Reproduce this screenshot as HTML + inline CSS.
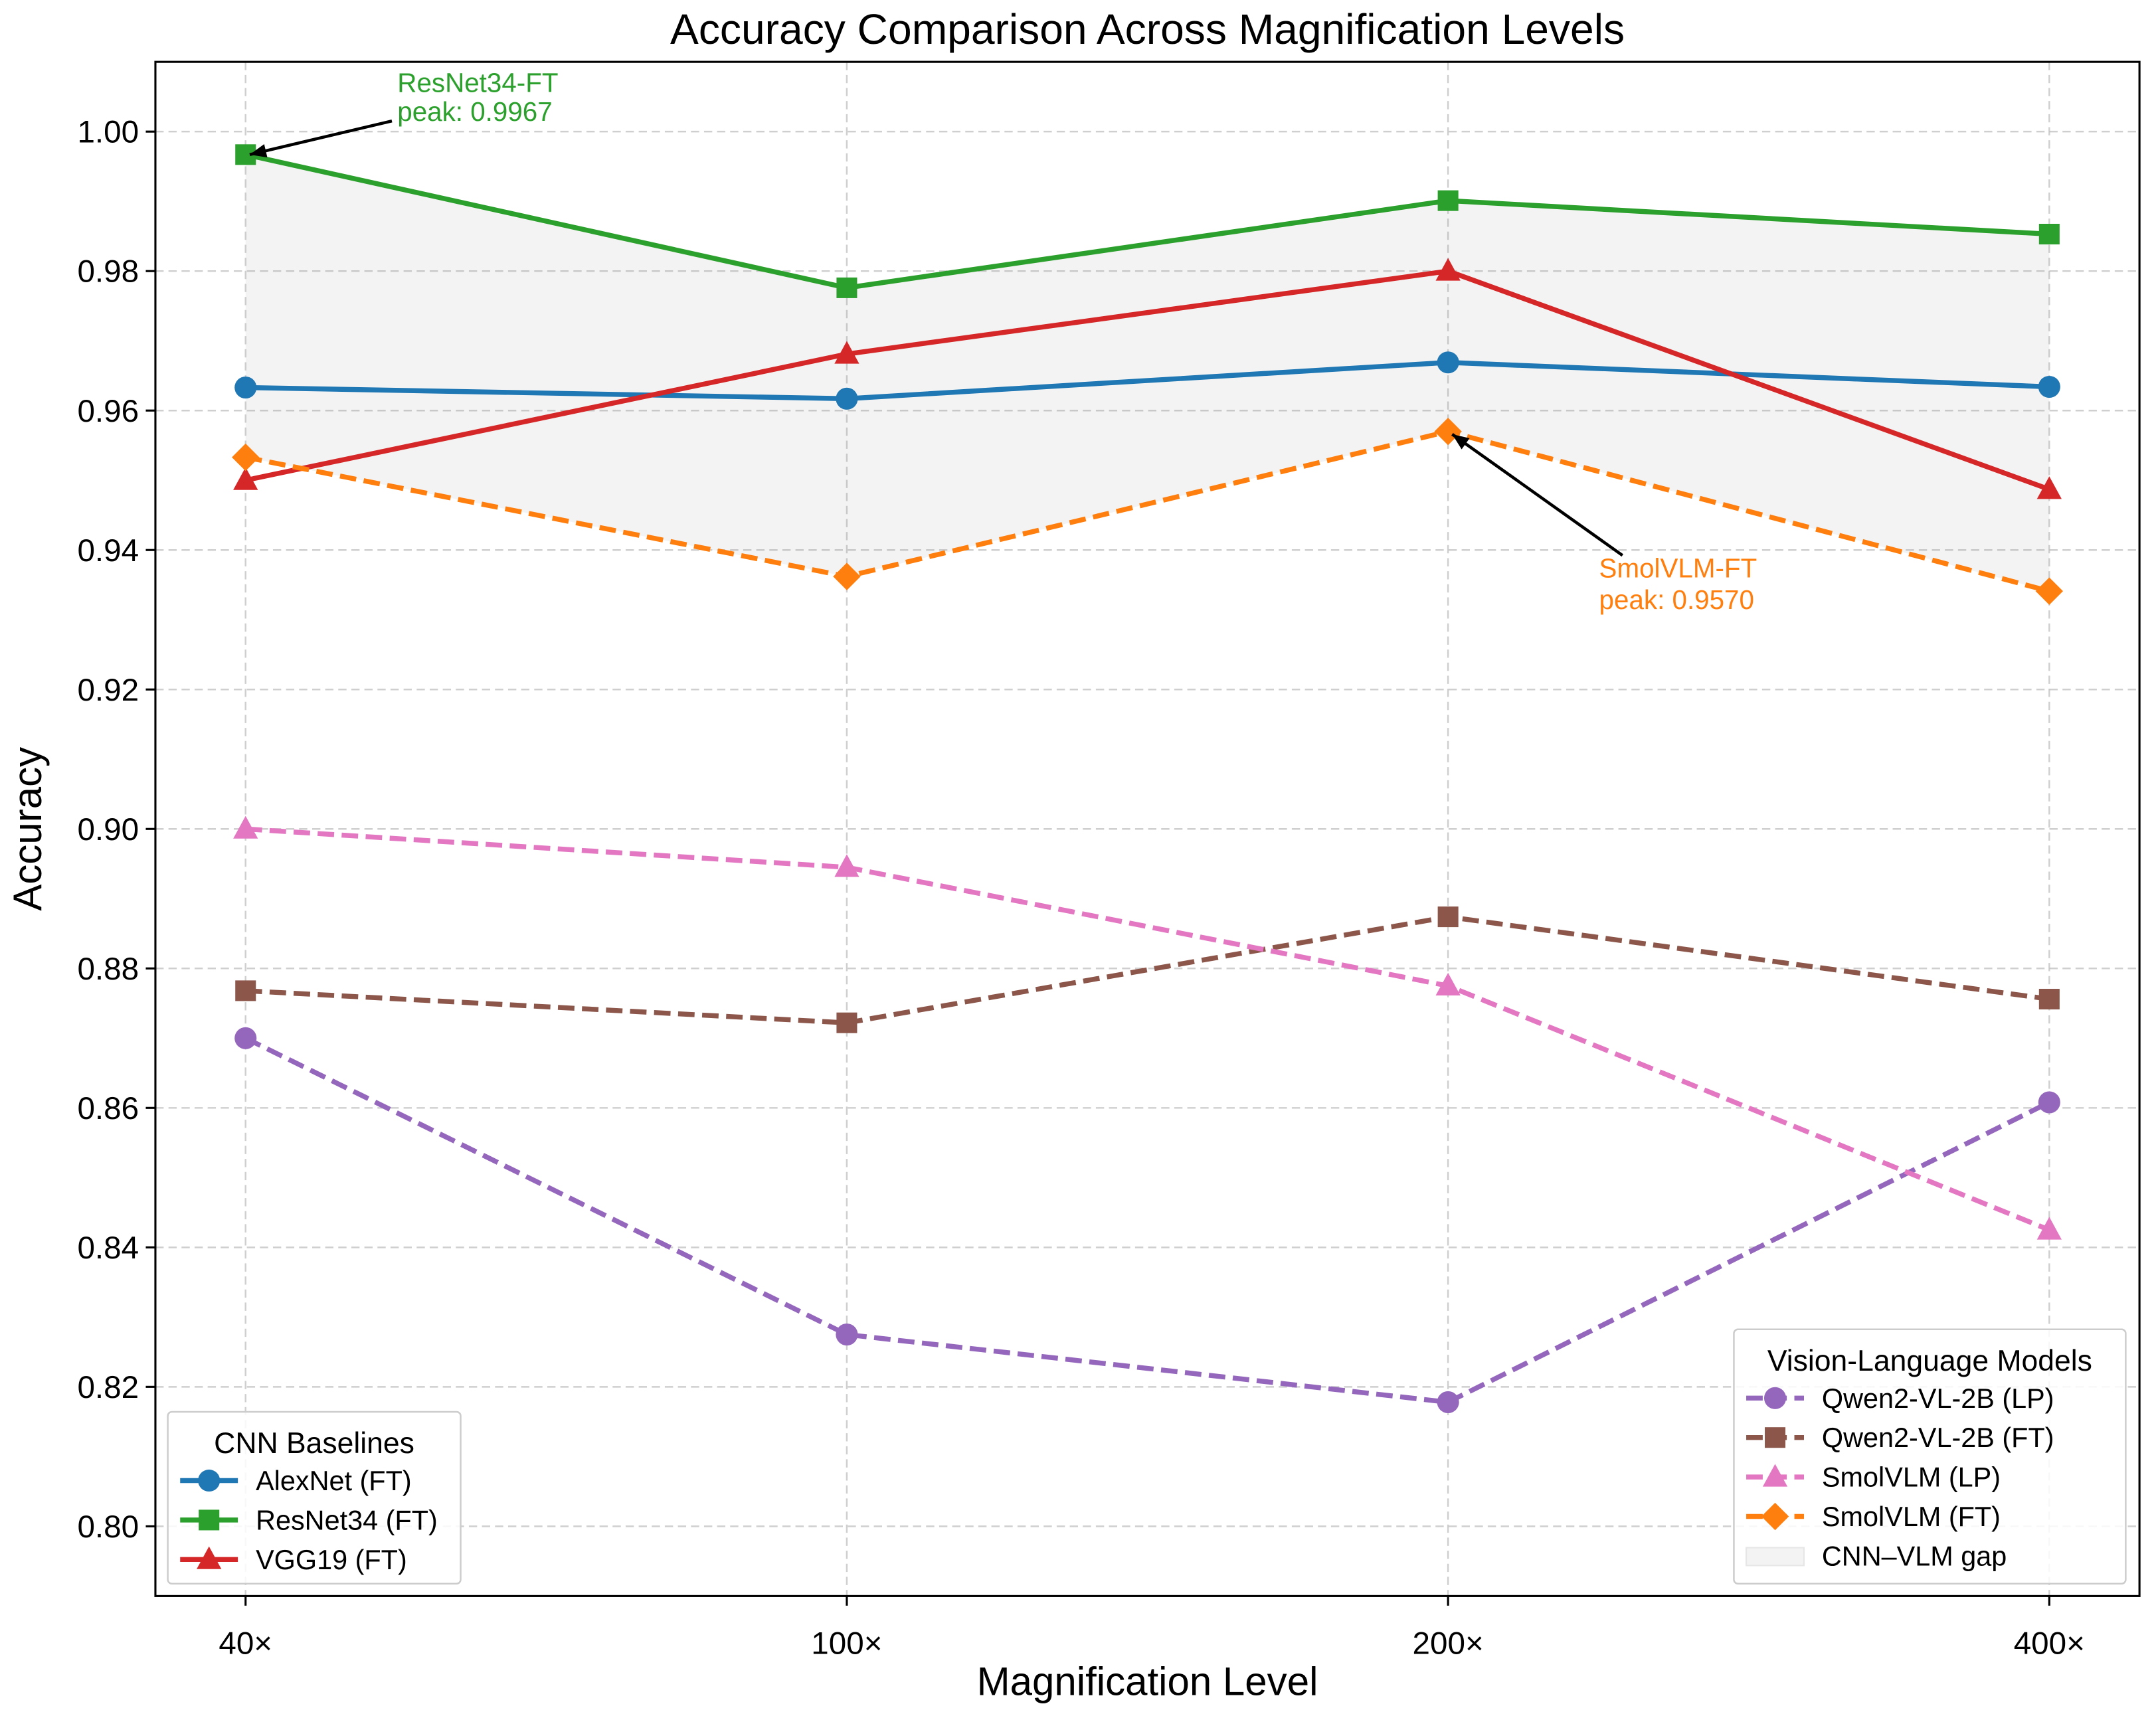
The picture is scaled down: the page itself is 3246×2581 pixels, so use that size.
<!DOCTYPE html>
<html><head><meta charset="utf-8"><style>
html,body{margin:0;padding:0;background:#fff;}
svg{display:block;font-family:"Liberation Sans",sans-serif;}
</style></head><body>
<svg id="chart" width="3246" height="2581" viewBox="0 0 1568 1246.8" xmlns="http://www.w3.org/2000/svg">
<rect width="1568" height="1246.8" fill="#fff"/>
<g id="grid"></g><g id="fill"></g><g id="series"></g><g id="axes"></g><g id="extra"></g>
</svg>
<script>
const categories = ["40×","100×","200×","400×"];
const yTicks = [0.80,0.82,0.84,0.86,0.88,0.90,0.92,0.94,0.96,0.98,1.00];
const alexnet = [0.9633,0.9617,0.9669,0.9634];
const resnet = [0.9967,0.9776,0.9901,0.9853];
const vgg = [0.9500,0.9681,0.9800,0.9487];
const qwenLP = [0.8700,0.8275,0.8178,0.8608];
const qwenFT = [0.8768,0.8722,0.8874,0.8756];
const smolLP = [0.9000,0.8945,0.8775,0.8425];
const smolFT = [0.9533,0.9362,0.9570,0.9341];

const L=113,R=1556,T=45,B=1161, xmin=-0.15,xmax=3.15, ymin=0.79,ymax=1.01;
const X=i=>L+(i-xmin)/(xmax-xmin)*(R-L);
const Y=v=>B-(v-ymin)/(ymax-ymin)*(B-T);
const NS="http://www.w3.org/2000/svg";
function mk(tag,attrs,parent,text){const e=document.createElementNS(NS,tag);for(const k in attrs)e.setAttribute(k,attrs[k]);if(text!==undefined)e.textContent=text;parent.appendChild(e);return e;}
const grid=document.getElementById('grid'),fillG=document.getElementById('fill'),ser=document.getElementById('series'),ax=document.getElementById('axes'),ex=document.getElementById('extra');

categories.forEach((c,i)=>{const g=mk('line',{x1:X(i),x2:X(i),y1:T,y2:B,stroke:'#b0b0b0','stroke-width':1.2,'stroke-dasharray':'6,3.5',opacity:0.6},grid);

});
yTicks.forEach(v=>{const g=mk('line',{x1:L,x2:R,y1:Y(v),y2:Y(v),stroke:'#b0b0b0','stroke-width':1.2,'stroke-dasharray':'6,3.5',opacity:0.6},grid);

});

const gapTop=categories.map((c,i)=>Math.max(alexnet[i],resnet[i],vgg[i]));
const gapBot=categories.map((c,i)=>Math.max(qwenLP[i],qwenFT[i],smolLP[i],smolFT[i]));
const gapPts=gapTop.map((v,i)=>X(i)+','+Y(v)).concat(gapBot.map((v,i)=>X(i)+','+Y(v)).reverse());
const gap=mk('polygon',{points:gapPts.join(' '),fill:'#9e9e9e','fill-opacity':0.12,stroke:'none'},fillG);



function marker(type,x,y,color,parent){let e;
 if(type==='o')e=mk('circle',{cx:x,cy:y,r:8,fill:color},parent);
 else if(type==='s')e=mk('rect',{x:x-7.5,y:y-7.5,width:15,height:15,fill:color},parent);
 else if(type==='^')e=mk('polygon',{points:`${x},${y-9.5} ${x+9},${y+7} ${x-9},${y+7}`,fill:color},parent);
 else e=mk('polygon',{points:`${x},${y-10} ${x+10},${y} ${x},${y+10} ${x-10},${y}`,fill:color},parent);
 return e;}
const seriesDefs=[
 ['alexnet',alexnet,'#1f77b4','o',false],['resnet34',resnet,'#2ca02c','s',false],['vgg19',vgg,'#d62728','^',false],
 ['qwen-lp',qwenLP,'#9467bd','o',true],['qwen-ft',qwenFT,'#8c564b','s',true],['smolvlm-lp',smolLP,'#e377c2','^',true],['smolvlm-ft',smolFT,'#ff7f0e','D',true]];
seriesDefs.forEach(([n,d,c,m,dash])=>{
 const g=mk('g',{},ser);
 
 
 const a={points:d.map((v,i)=>X(i)+','+Y(v)).join(' '),fill:'none',stroke:c,'stroke-width':3.6,'stroke-linejoin':'round'};
 if(dash)a['stroke-dasharray']='12,5.5';
 const pl=mk('polyline',a,g);
 
 
 d.forEach((v,i)=>{const p=marker(m,X(i),Y(v),c,g);
 
 });
});

const fr=mk('rect',{x:L,y:T,width:R-L,height:B-T,fill:'none',stroke:'#000','stroke-width':1.5},ax);


categories.forEach((c,i)=>{mk('line',{x1:X(i),x2:X(i),y1:B,y2:B+7,stroke:'#000','stroke-width':1.5},ax);
 const t=mk('text',{x:X(i),y:B+42,'text-anchor':'middle','font-size':23},ax,c);
 
 });
yTicks.forEach(v=>{mk('line',{x1:L-7,x2:L,y1:Y(v),y2:Y(v),stroke:'#000','stroke-width':1.5},ax);
 const t=mk('text',{x:L-12,y:Y(v)+8,'text-anchor':'end','font-size':23},ax,v.toFixed(2));
 
 });
let t=mk('text',{x:(L+R)/2,y:1233,'text-anchor':'middle','font-size':29},ax,'Magnification Level');


t=mk('text',{x:0,y:0,'text-anchor':'middle','font-size':29,transform:`translate(30,${(T+B)/2}) rotate(-90)`},ax,'Accuracy');


t=mk('text',{x:(L+R)/2,y:32,'text-anchor':'middle','font-size':31},ax,'Accuracy Comparison Across Magnification Levels');



function arrow(x1,y1,x2,y2){const l=mk('line',{x1,y1,x2,y2,stroke:'#000','stroke-width':2.2},ex);
 
 
 const a=Math.atan2(y2-y1,x2-x1),s=12,w=5;const p=[[x2,y2],[x2-s*Math.cos(a)+w*Math.sin(a),y2-s*Math.sin(a)-w*Math.cos(a)],[x2-s*Math.cos(a)-w*Math.sin(a),y2-s*Math.sin(a)+w*Math.cos(a)]];
 const h=mk('polygon',{points:p.map(q=>q.join(',')).join(' '),fill:'#000'},ex);
 
 }
arrow(285,88,X(0)+3,Y(resnet[0]));
t=mk('text',{x:289,y:67,'font-size':19.5,fill:'#2ca02c'},ex,'ResNet34-FT');


t=mk('text',{x:289,y:88,'font-size':19.5,fill:'#2ca02c'},ex,'peak: 0.9967');


arrow(1180,404,X(2)+3,Y(smolFT[2])+2);
t=mk('text',{x:1163,y:420,'font-size':19.5,fill:'#ff7f0e'},ex,'SmolVLM-FT');


t=mk('text',{x:1163,y:443,'font-size':19.5,fill:'#ff7f0e'},ex,'peak: 0.9570');



function legend(name,x,y,w,h,title,entries){const g=mk('g',{},ex);
 
 
 mk('rect',{x,y,width:w,height:h,rx:3,fill:'#fff','fill-opacity':0.85,stroke:'#ccc','stroke-width':1.2},g);
 const tt=mk('text',{x:x+w/2,y:y+30,'text-anchor':'middle','font-size':21.5},g,title);
 
 
 entries.forEach((e,k)=>{const yy=y+50+k*28.7;const eg=mk('g',{},g);
  
  
  if(e[3]==='patch')mk('rect',{x:x+9,y:yy-6,width:42,height:13,fill:'#9e9e9e','fill-opacity':0.12,stroke:'#e6e6e6'},eg);
  else{const a={x1:x+9,x2:x+51,y1:yy,y2:yy,stroke:e[1],'stroke-width':3.6};if(e[4])a['stroke-dasharray']='12,5.5';mk('line',a,eg);marker(e[3],x+30,yy,e[1],eg);}
  mk('text',{x:x+64,y:yy+7,'font-size':20},eg,e[0]);});}
legend('cnn-legend',122,1027,213,125,'CNN Baselines',[['AlexNet (FT)','#1f77b4',0,'o'],['ResNet34 (FT)','#2ca02c',0,'s'],['VGG19 (FT)','#d62728',0,'^']]);
legend('vlm-legend',1261,967,285,185,'Vision-Language Models',[['Qwen2-VL-2B (LP)','#9467bd',0,'o',1],['Qwen2-VL-2B (FT)','#8c564b',0,'s',1],['SmolVLM (LP)','#e377c2',0,'^',1],['SmolVLM (FT)','#ff7f0e',0,'D',1],['CNN–VLM gap','',0,'patch']]);
</script>
</body></html>
